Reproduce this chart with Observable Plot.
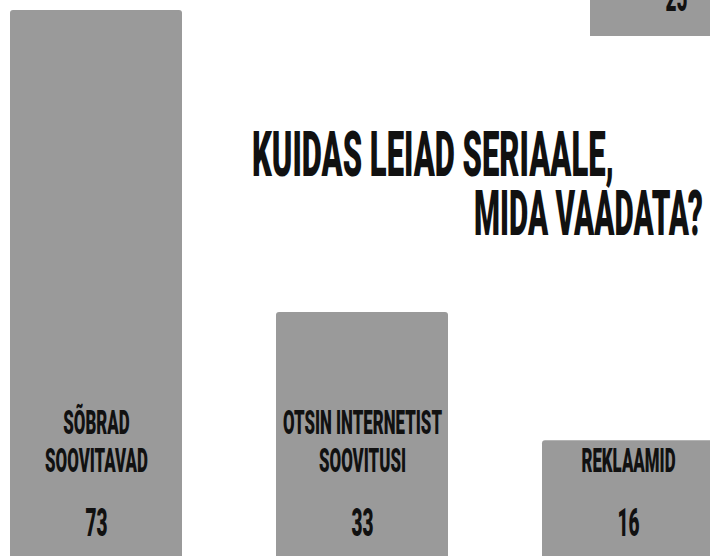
<!DOCTYPE html>
<html>
<head>
<meta charset="utf-8">
<script src="https://cdn.jsdelivr.net/npm/d3@7"></script>
<script src="https://cdn.jsdelivr.net/npm/@observablehq/plot@0.6"></script>
<style>
  html, body { margin: 0; padding: 0; background: #fff; overflow: hidden; }
  #wrap { position: relative; width: 710px; height: 556px; overflow: hidden; background: #fff; }
  #wrap svg { position: absolute; overflow: hidden; }
</style>
</head>
<body>
<div id="wrap"></div>
<script>
// ---- data ----
const categories = ["SÕBRAD\nSOOVITAVAD", "OTSIN INTERNETIST\nSOOVITUSI", "REKLAAMID"];
const values = [73, 33, 16];
const extraCategories = ["4"];   // fourth bar, its label lies outside the picture
const extraValues = [25];
const titleLines = ["KUIDAS LEIAD SERIAALE,", "MIDA VAADATA?"];

const data = categories.map((c, i) => ({category: c, value: values[i]}));
const extraData = extraCategories.map((c, i) => ({category: c, value: extraValues[i]}));

const FONT = "Roboto, 'Liberation Sans Narrow', sans-serif";
const BAR = "#9a9a9a";
const INK = "#111";
const pxPerUnit = (561 - 10) / 73;

const wrap = document.getElementById("wrap");

const main = Plot.plot({
  width: 710, height: 556, margin: 0,
  style: {background: "transparent", fontFamily: FONT},
  x: {type: "band", domain: categories, range: [10, 714], paddingInner: 94 / 266, paddingOuter: 0, axis: null},
  y: {domain: [0, 73], range: [561, 10], axis: null},
  marks: [
    Plot.barY(data, {x: "category", y: "value", fill: BAR, rx: 3}),
    Plot.text(data, {x: "category", y: () => 0, text: "category", lineAnchor: "bottom", dy: -90,
      fontSize: 33, fontWeight: 900, lineHeight: 1.15, fill: INK, fontFamily: FONT}),
    Plot.text(data, {x: "category", y: () => 0, text: d => String(d.value), lineAnchor: "bottom", dy: -26,
      fontSize: 38, fontWeight: 900, fill: INK, fontFamily: FONT})
  ]
});
main.style.left = "0px"; main.style.top = "0px";
wrap.appendChild(main);

const extra = Plot.plot({
  width: 172, height: 36, margin: 0,
  style: {background: "transparent", fontFamily: FONT},
  x: {type: "band", domain: extraCategories, range: [0, 172], padding: 0, axis: null},
  y: {domain: [0, 25], range: [36, 36 - 25 * pxPerUnit], axis: null},
  marks: [
    Plot.barY(extraData, {x: "category", y: "value", fill: BAR}),
    Plot.text(extraData, {x: "category", y: () => 0, text: d => String(d.value), lineAnchor: "bottom", dy: -26,
      fontSize: 38, fontWeight: 900, fill: INK, fontFamily: FONT})
  ]
});
extra.style.left = "590px"; extra.style.top = "0px";
wrap.appendChild(extra);

// title
const svg = d3.select(main);
const t1 = svg.append("text").attr("transform", "translate(252,176)")
  .attr("font-family", FONT).attr("font-size", 62.6).attr("font-weight", 900).attr("fill", INK)
  .attr("text-anchor", "start").text(titleLines[0]);
const t2 = svg.append("text").attr("transform", "translate(703,235)")
  .attr("font-family", FONT).attr("font-size", 62.6).attr("font-weight", 900).attr("fill", INK)
  .attr("text-anchor", "end").text(titleLines[1]);

// condense the type horizontally to match the narrow display face
function squeeze(els, s) {
  els.forEach(el => el.setAttribute("transform", (el.getAttribute("transform") || "") + ` scale(${s},1)`));
}
const groups = main.querySelectorAll('g[aria-label="text"]');
const catTexts = Array.from(groups[0].querySelectorAll("text"));
const valTexts = Array.from(groups[1].querySelectorAll("text"));
const extraTexts = Array.from(extra.querySelectorAll('g[aria-label="text"] text'));

const refLine = catTexts[0].querySelectorAll("tspan")[1];
const sCat = 103 / refLine.getComputedTextLength();
squeeze(catTexts, sCat);
const sVal = 22 / valTexts[0].getComputedTextLength();
squeeze(valTexts, sVal);
squeeze(extraTexts, sVal);
const s1 = 362 / t1.node().getComputedTextLength();
const s2 = 229 / t2.node().getComputedTextLength();
squeeze([t1.node()], s1);
squeeze([t2.node()], s2);
</script>
</body>
</html>
